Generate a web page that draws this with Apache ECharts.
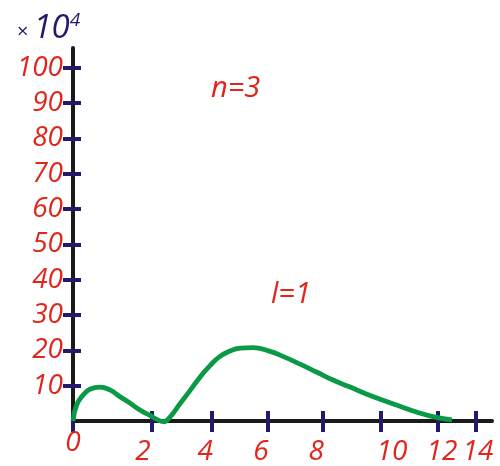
<!DOCTYPE html>
<html>
<head>
<meta charset="utf-8">
<script src="https://cdn.jsdelivr.net/npm/echarts@6/dist/echarts.min.js"></script>
<style>
html, body { margin: 0; padding: 0; background: #fff; }
#chart { width: 500px; height: 466px; }
</style>
</head>
<body>
<div id="chart"></div>
<script>
// curve: r (in the drawn axis units) and probability (x 10^4)
var radius  = [0, 0.13, 0.36, 0.59, 0.94, 1.29, 1.64, 1.99, 2.34, 2.69, 2.90, 3.16, 3.39, 3.74, 4.09, 4.44, 4.79, 5.14, 5.49, 5.84, 6.29, 6.89, 7.34, 7.94, 8.53, 9.09, 9.69, 10.28, 10.84, 11.43, 12.03, 12.66, 13.25];
var density = [0, 4.6, 7.4, 9.0, 9.6, 8.8, 6.9, 5.1, 3.1, 1.6, 0.6, -0.2, 1.1, 4.9, 8.6, 12.4, 15.7, 18.3, 19.8, 20.6, 20.8, 19.7, 18.3, 16.1, 13.8, 11.6, 9.6, 7.6, 5.9, 4.2, 2.5, 1.1, 0.3];

// ticks on the drawing are not evenly spaced, labels sit a bit off them
var xTickAt  = [0, 2.76, 4.86, 6.82, 8.74, 10.77, 12.76, 14.09];
var xLabelAt = [0, 2.45, 4.62, 6.57, 8.50, 11.15, 12.90, 14.16];
var xLabels  = ['0', '2', '4', '6', '8', '10', '12', '14'];
var yTicks   = [10, 20, 30, 40, 50, 60, 70, 80, 90, 100];

var red = '#e1251b';
var navy = '#231a6b';
var green = '#0a9a45';
var font = '"Open Sans", "Liberation Sans", sans-serif';

var points = [];
for (var i = 0; i < radius.length; i++) {
    points.push([radius[i], density[i]]);
}

var xBase = {
    type: 'value', min: 0, max: 14.65, gridIndex: 0, position: 'bottom',
    splitLine: {show: false}
};
var yBase = {
    type: 'value', min: 0, max: 105.6, interval: 10, gridIndex: 0, position: 'left',
    splitLine: {show: false}
};

var myChart = echarts.init(document.getElementById('chart'));
var option = {
    animation: false,
    title: {
        left: 12,
        top: 6,
        text: '{x|×} {n|10}{s|4}',
        textStyle: {
            rich: {
                x: {fontSize: 20, color: navy, fontFamily: font, fontWeight: 'normal', padding: [8, 0, 0, 0]},
                n: {fontSize: 33, color: navy, fontFamily: font, fontWeight: 'normal', fontStyle: 'italic'},
                s: {fontSize: 19, color: navy, fontFamily: font, fontWeight: 'normal', fontStyle: 'italic', verticalAlign: 'top', padding: [0, 0, 16, 0]}
            }
        }
    },
    grid: {left: 73, right: 8, top: 48, bottom: 42, containLabel: false},
    xAxis: [
        echarts.util.merge({
            axisLine: {onZero: false, lineStyle: {color: '#1a1a1a', width: 4}},
            axisTick: {customValues: xTickAt, length: 11, lineStyle: {color: navy, width: 4}},
            axisLabel: {
                customValues: xLabelAt, margin: 17,
                color: red, fontSize: 28, fontStyle: 'italic', fontFamily: font,
                formatter: function (v) {
                    var k = xLabelAt.indexOf(v);
                    if (k === 0) return '{z|0}';
                    return k < 0 ? '' : xLabels[k];
                },
                rich: {z: {lineHeight: 10, fontSize: 28, fontStyle: 'italic', fontFamily: font, color: red}}
            }
        }, xBase, true),
        echarts.util.merge({
            axisLine: {show: false},
            axisTick: {customValues: xTickAt, inside: true, length: 10, lineStyle: {color: navy, width: 4}},
            axisLabel: {show: false}
        }, xBase, true)
    ],
    yAxis: [
        echarts.util.merge({
            axisLine: {onZero: false, lineStyle: {color: '#1a1a1a', width: 4}},
            axisTick: {customValues: yTicks, length: 10, lineStyle: {color: navy, width: 4}},
            axisLabel: {
                customValues: yTicks, margin: 10,
                color: red, fontSize: 28, fontStyle: 'italic', fontFamily: font
            }
        }, yBase, true),
        echarts.util.merge({
            axisLine: {show: false},
            axisTick: {customValues: yTicks, inside: true, length: 8, lineStyle: {color: navy, width: 4}},
            axisLabel: {show: false}
        }, yBase, true)
    ],
    graphic: [
        {type: 'text', left: 211, top: 74, style: {text: 'n=3', fill: red, fontSize: 29, fontStyle: 'italic', fontFamily: font}},
        {type: 'text', left: 271, top: 280, style: {text: 'l=1', fill: red, fontSize: 29, fontStyle: 'italic', fontFamily: font}}
    ],
    series: [{
        type: 'line',
        data: points,
        smooth: 0.5,
        showSymbol: false,
        clip: false,
        lineStyle: {color: green, width: 4.8},
        z: 1
    }]
};
myChart.setOption(option);
</script>
</body>
</html>
